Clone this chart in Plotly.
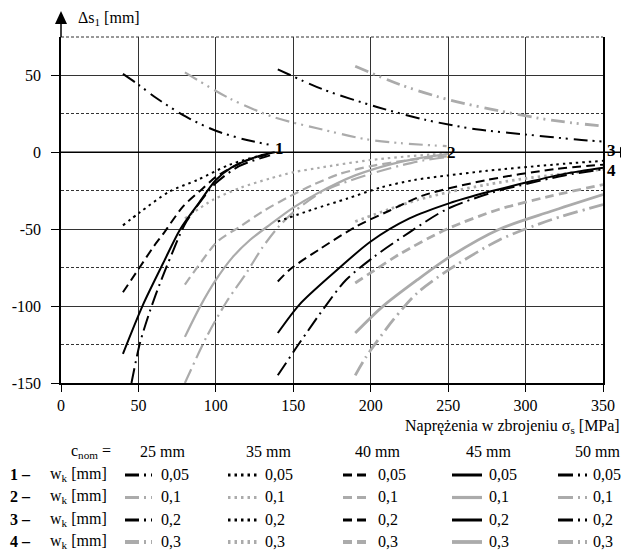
import plotly.graph_objects as go

# ---------------- data ----------------
# group 1: w_k = 0,05 (black)
g1_c25_x = [40, 50, 62, 81, 100, 120, 137]
g1_c25_y = [51, 44, 35, 23, 14, 8, 4.5]
g1_c35_x = [40, 51, 70, 88, 109, 131, 134]
g1_c35_y = [-47.5, -39, -25.5, -18, -8, -1.5, -1]
g1_c40_x = [40, 50, 60, 66, 79, 91, 100, 118, 135]
g1_c40_y = [-91, -76, -61, -53, -35, -24, -16, -6, -1]
g1_c45_x = [40, 53, 66, 77, 89, 100, 110, 126, 138]
g1_c45_y = [-131, -99, -72, -50, -33, -18, -10, -3, 0]
g1_c50_x = [45.5, 51, 57.5, 64, 77, 81, 90, 100, 115, 135]
g1_c50_y = [-150, -124, -103, -85, -53, -45, -32, -20, -9, -2]

# group 2: w_k = 0,1 (grey)
g2_c25_x = [80, 109, 137, 166, 197, 219, 249]
g2_c25_y = [52, 35, 23, 15.5, 8.5, 6, 4]
g2_c35_x = [80, 98, 116, 135, 150, 167, 200, 238, 250]
g2_c35_y = [-43, -31, -23, -17, -13, -10, -5, -1.5, -1]
g2_c40_x = [80, 90, 101, 116, 131, 147, 163, 180, 200, 225, 250]
g2_c40_y = [-86, -72, -58, -48, -38, -29, -21, -14, -9, -5, -2.5]
g2_c45_x = [80, 90, 100, 111, 122, 135, 150, 165, 190, 220, 250]
g2_c45_y = [-120, -100, -83, -68, -57, -47, -36, -27, -15, -6, -1]
g2_c50_x = [80, 94, 107, 120, 130, 140, 150, 170, 200, 230, 250]
g2_c50_y = [-150, -120, -97, -78, -62, -49, -39, -25, -14, -6, -3]

# group 3: w_k = 0,2 (black)
g3_c25_x = [140, 169, 204, 236, 268, 301, 333, 350]
g3_c25_y = [54, 41, 29.5, 21, 15, 11.5, 8.3, 7]
g3_c35_x = [140, 163, 185, 206, 228, 250, 275, 318, 350]
g3_c35_y = [-45, -37, -30, -23, -18, -15, -12, -8, -5.5]
g3_c40_x = [140, 148, 167, 191, 212, 234, 275, 318, 350]
g3_c40_y = [-84, -76, -63, -48, -38, -28, -18, -11, -8]
g3_c45_x = [140, 154, 176, 200, 225, 251, 277, 303, 325, 350]
g3_c45_y = [-117.5, -99, -78.5, -58, -43, -33, -25.5, -19, -14, -10]
g3_c50_x = [140, 154, 171.5, 184, 202, 225, 249, 279, 303, 325, 350]
g3_c50_y = [-145, -124, -99, -83, -68, -52, -37, -26, -20, -15, -11]

# group 4: w_k = 0,3 (grey, thick)
g4_c25_x = [190, 219, 251, 283, 316, 350]
g4_c25_y = [56, 44, 34, 27, 21, 17]
g4_c35_x = [190, 212, 230, 250, 275, 300, 350]
g4_c35_y = [-45, -37, -31, -26, -21, -17, -11]
g4_c40_x = [190, 205, 219, 249, 283, 316, 350]
g4_c40_y = [-85, -75, -66, -50, -37, -28.5, -21]
g4_c45_x = [190, 208, 230, 251, 283, 316, 350]
g4_c45_y = [-117.5, -100, -83, -68, -50, -38.5, -27.5]
g4_c50_x = [190, 197, 214.5, 230, 251, 283, 316, 350]
g4_c50_y = [-145, -133, -109, -91.5, -76, -57, -44, -34]

x_ticks = [0, 50, 100, 150, 200, 250, 300, 350]
y_ticks = [-150, -100, -50, 0, 50]
y_tick_text = ["-150", "-100", "-50", "0", "50"]
y_minor = [-125, -75, -25, 25]

cnom_labels = ["25 mm", "35 mm", "40 mm", "45 mm", "50 mm"]
wk_labels = ["0,05", "0,1", "0,2", "0,3"]
group_ids = ["1", "2", "3", "4"]
group_label_x = [141, 255.5, 359, 359]
group_label_y = [9.5, 6.5, 8, -12]

# ---------------- styles ----------------
FONT = "Liberation Serif, Times New Roman, DejaVu Serif, serif"
cnom_dash = ["14px,5px,2px,5px,2px,6px", "2.5px,4px", "9px,5px", "solid", "15px,5px,2px,5px"]
wk_color = ["#000000", "#ababab", "#000000", "#ababab"]
wk_width = [2, 2.2, 2, 2.8]

groups = [
    [(g1_c25_x, g1_c25_y), (g1_c35_x, g1_c35_y), (g1_c40_x, g1_c40_y), (g1_c45_x, g1_c45_y), (g1_c50_x, g1_c50_y)],
    [(g2_c25_x, g2_c25_y), (g2_c35_x, g2_c35_y), (g2_c40_x, g2_c40_y), (g2_c45_x, g2_c45_y), (g2_c50_x, g2_c50_y)],
    [(g3_c25_x, g3_c25_y), (g3_c35_x, g3_c35_y), (g3_c40_x, g3_c40_y), (g3_c45_x, g3_c45_y), (g3_c50_x, g3_c50_y)],
    [(g4_c25_x, g4_c25_y), (g4_c35_x, g4_c35_y), (g4_c40_x, g4_c40_y), (g4_c45_x, g4_c45_y), (g4_c50_x, g4_c50_y)],
]

# The page body has an 8px default margin; the figure is sized so the plot area
# lands at screen pixels x 61..603, y 37..383.
OFF = 8
W, H = 629 - OFF, 551 - OFF
PL, PR, PT, PB = 61, 603, 37, 383  # plot area in screen pixels
ML, MT = PL - OFF, PT - OFF
MR, MB = W - (PR - OFF), H - (PB - OFF)
PW, PH = PR - PL, PB - PT
X0, X1, Y0, Y1 = 0, 350, -150, 75


def xp(sx):
    return (sx - PL) / PW


def yp(sy):
    return (PB - sy) / PH


def data_to_paper_x(x):
    return (x - X0) / (X1 - X0)


def data_to_paper_y(y):
    return (y - Y0) / (Y1 - Y0)


fig = go.Figure()

# draw grey groups first, black on top
order = [1, 3, 0, 2]
for gi in order:
    for ci, (xs, ys) in enumerate(groups[gi]):
        fig.add_trace(go.Scatter(
            x=xs, y=ys, mode="lines",
            line=dict(color=wk_color[gi], width=wk_width[gi], dash=cnom_dash[ci],
                      shape="spline", smoothing=0.8),
            showlegend=False, hoverinfo="skip"))

shapes = []
annotations = []
FS = 16
TXT = dict(family=FONT, size=FS, color="black")

# dashed top border (at 75)
shapes.append(dict(type="line", xref="paper", yref="paper", x0=0, x1=1, y0=1, y1=1,
                   line=dict(color="#333333", width=1, dash="3px,2px")))
# axis extensions and arrows
shapes.append(dict(type="line", xref="paper", yref="paper", x0=0, x1=0, y0=1, y1=yp(22),
                   line=dict(color="black", width=1.5)))
shapes.append(dict(type="path", xref="paper", yref="paper",
                   path=f"M {xp(55)} {yp(24)} L {xp(67)} {yp(24)} L {xp(61)} {yp(11)} Z",
                   fillcolor="black", line=dict(color="black", width=0)))
shapes.append(dict(type="line", xref="paper", yref="y", x0=0, x1=xp(621), y0=0, y1=0,
                   line=dict(color="black", width=1.5)))
y0px = PT + PH * (Y1 - 0) / (Y1 - Y0)
shapes.append(dict(type="path", xref="paper", yref="paper",
                   path=f"M {xp(620)} {yp(y0px - 5.5)} L {xp(620)} {yp(y0px + 5.5)} L {xp(629)} {yp(y0px)} Z",
                   fillcolor="black", line=dict(color="black", width=0)))

# group number labels (paper coords so labels beyond the x range still show)
for gid, gx, gy in zip(group_ids, group_label_x, group_label_y):
    annotations.append(dict(x=data_to_paper_x(gx), y=data_to_paper_y(gy), xref="paper", yref="paper",
                            text=f"<b>{gid}</b>", showarrow=False, borderpad=0,
                            font=dict(family=FONT, size=17, color="black")))

# axis titles
annotations.append(dict(x=xp(76), y=yp(19), xref="paper", yref="paper", xanchor="left", yanchor="middle",
                        text="Δs<sub>1</sub> [mm]", showarrow=False, font=TXT))
annotations.append(dict(x=xp(621), y=yp(416), xref="paper", yref="paper", xanchor="right", yanchor="top",
                        text="Naprężenia w zbrojeniu σ<sub>s</sub> [MPa]", showarrow=False, font=TXT,
                        borderpad=0))

# custom legend table
header_py = 451
col_center = [162, 268, 377, 488, 597]
sample_x = [(125, 152), (228, 257), (343, 368), (452, 482), (558, 587)]
text_x = [159, 263, 376, 487, 591]
row_py = [474, 496.5, 519, 541]

annotations.append(dict(x=xp(113), y=yp(header_py), xref="paper", yref="paper", xanchor="right",
                        yanchor="middle", text="c<sub>nom</sub> =", showarrow=False, font=TXT))
for ci, lab in enumerate(cnom_labels):
    annotations.append(dict(x=xp(col_center[ci]), y=yp(header_py), xref="paper", yref="paper",
                            xanchor="center", yanchor="middle", text=lab, showarrow=False, font=TXT))
for ri, (gid, wk) in enumerate(zip(group_ids, wk_labels)):
    py = row_py[ri]
    annotations.append(dict(x=xp(8), y=yp(py), xref="paper", yref="paper", xanchor="left", yanchor="middle",
                            text=f"<b>{gid} –</b>", showarrow=False, font=TXT))
    annotations.append(dict(x=xp(48), y=yp(py), xref="paper", yref="paper", xanchor="left", yanchor="middle",
                            text="w<sub>k</sub> [mm]", showarrow=False, font=TXT))
    for ci in range(5):
        sx0, sx1 = sample_x[ci]
        shapes.append(dict(type="line", xref="paper", yref="paper", x0=xp(sx0), x1=xp(sx1),
                           y0=yp(py + 1), y1=yp(py + 1),
                           line=dict(color=wk_color[ri], width=wk_width[ri] + 1, dash=cnom_dash[ci])))
        annotations.append(dict(x=xp(text_x[ci]), y=yp(py), xref="paper", yref="paper", xanchor="left",
                                yanchor="middle", text=wk, showarrow=False, font=TXT))

fig.update_layout(
    width=W, height=H,
    margin=dict(l=ML, r=MR, t=MT, b=MB, autoexpand=False),
    paper_bgcolor="white", plot_bgcolor="white",
    font=TXT,
    shapes=shapes, annotations=annotations,
    xaxis=dict(range=[X0, X1], tickvals=x_ticks, showgrid=True, gridcolor="#333333", gridwidth=1,
               zeroline=False, showline=True, linecolor="black", linewidth=1.5, automargin=False,
               ticks="outside", ticklen=7, tickcolor="black", tickwidth=1,
               tickfont=TXT, ticklabelstandoff=0),
    yaxis=dict(range=[Y0, Y1], tickvals=y_ticks, ticktext=y_tick_text, showgrid=True,
               gridcolor="#333333", gridwidth=1, zeroline=False, automargin=False,
               showline=True, mirror=True, linecolor="black", linewidth=1.5,
               ticks="outside", ticklen=8, tickcolor="black", tickwidth=1,
               tickfont=TXT, ticklabelstandoff=7,
               minor=dict(tickvals=y_minor, showgrid=True, gridcolor="#333333", gridwidth=1,
                          griddash="3px,2px", ticks="")),
)

fig.write_html("out.html")
